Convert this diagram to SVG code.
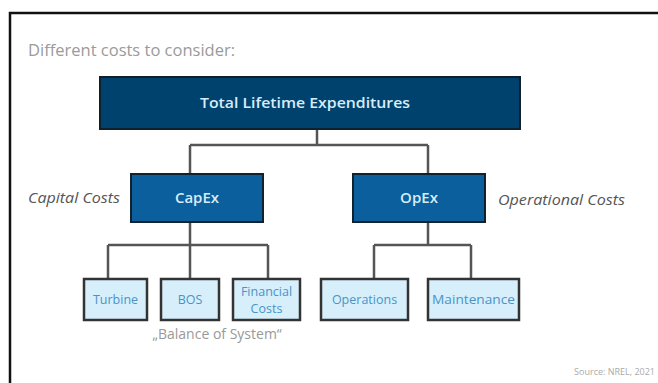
<svg xmlns="http://www.w3.org/2000/svg" width="658" height="383" viewBox="0 0 658 383">
<style>
text{font-family:"Open Sans","Liberation Sans",sans-serif}
.conn{fill:none;stroke:#555;stroke-width:2.5}
.top{fill:#00426e;stroke:#0f1f2c;stroke-width:2}
.mid{fill:#0a5f9c;stroke:#10212f;stroke-width:2}
.leaf{fill:#d6effb;stroke:#333;stroke-width:2.5}
.wt{fill:#d8ecf8;font-size:15px;text-anchor:middle;font-weight:600}
.lt{fill:#4a93c8;font-size:12.5px;text-anchor:middle}
.side{fill:#555;font-size:15px;font-style:italic}
</style>
<rect width="658" height="383" fill="#fff"/>
<path d="M10 383V13H658" fill="none" stroke="#111" stroke-width="2.5"/>
<text x="28" y="56" fill="#9a9a9a" font-size="16.5">Different costs to consider:</text>
<g id="connectors">
<path class="conn" d="M317 129V145M190 145H428M190 145V174M428 145V174"/>
<path class="conn" d="M190 222V245M108 245H268M108 245V279M190 245V279M268 245V279"/>
<path class="conn" d="M428 222V245M374 245H471M374 245V279M471 245V279"/>
</g>
<g id="total"><rect class="top" x="100" y="77" width="420" height="52"/><text class="wt" x="305" y="108" textLength="210" lengthAdjust="spacingAndGlyphs">Total Lifetime Expenditures</text></g>
<g id="capex"><rect class="mid" x="131" y="174" width="132" height="48"/><text class="wt" x="197" y="203">CapEx</text></g>
<g id="opex"><rect class="mid" x="353" y="174" width="132" height="48"/><text class="wt" x="419" y="203">OpEx</text></g>
<text class="side" x="28" y="203" textLength="92" lengthAdjust="spacingAndGlyphs">Capital Costs</text>
<text class="side" x="498" y="205" textLength="127" lengthAdjust="spacingAndGlyphs">Operational Costs</text>
<g id="turbine"><rect class="leaf" x="84" y="279" width="63" height="41"/><text class="lt" x="115.5" y="304">Turbine</text></g>
<g id="bos"><rect class="leaf" x="161" y="279" width="58" height="41"/><text class="lt" x="190" y="304">BOS</text></g>
<g id="financial"><rect class="leaf" x="233" y="279" width="67" height="41"/><text class="lt" x="266.5" y="296">Financial</text><text class="lt" x="266.5" y="313">Costs</text></g>
<g id="operations"><rect class="leaf" x="321" y="279" width="87" height="41"/><text class="lt" x="364.5" y="304">Operations</text></g>
<g id="maintenance"><rect class="leaf" x="428" y="279" width="91" height="41"/><text class="lt" x="473.5" y="304" textLength="83" lengthAdjust="spacingAndGlyphs">Maintenance</text></g>
<text x="217" y="339" fill="#999" font-size="14" text-anchor="middle">„Balance of System“</text>
<text x="655" y="375" fill="#aaa" font-size="9" text-anchor="end">Source: NREL, 2021</text>
</svg>
